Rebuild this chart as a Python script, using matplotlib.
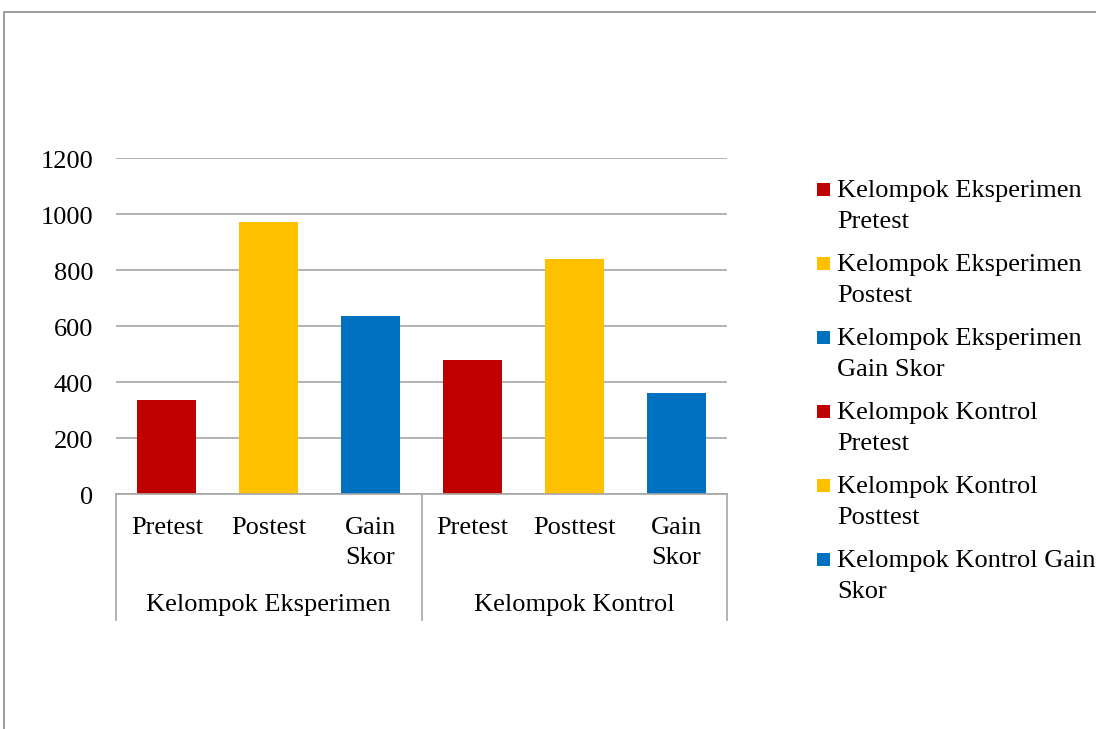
import matplotlib
matplotlib.use("Agg")
import matplotlib.pyplot as plt
from matplotlib.patches import Rectangle
from matplotlib.transforms import blended_transform_factory, ScaledTranslation

# ---- data ----
groups = ["Kelompok Eksperimen", "Kelompok Kontrol"]
tick_labels = ["Pretest", "Postest", "Gain\nSkor", "Pretest", "Posttest", "Gain\nSkor"]
values = [337, 973, 637, 480, 841, 362]
series_labels = [
    "Kelompok Eksperimen\nPretest",
    "Kelompok Eksperimen\nPostest",
    "Kelompok Eksperimen\nGain Skor",
    "Kelompok Kontrol\nPretest",
    "Kelompok Kontrol\nPosttest",
    "Kelompok Kontrol Gain\nSkor",
]
colors = ["#C00000", "#FFC000", "#0070C0", "#C00000", "#FFC000", "#0070C0"]
yticks = [0, 200, 400, 600, 800, 1000, 1200]

W, H = 1096, 729
plt.rcParams["font.family"] = ["Liberation Serif", "DejaVu Serif"]
FS = 19

fig = plt.figure(figsize=(W / 100, H / 100), dpi=100)
fig.patch.set_facecolor("white")

# outer frame (chart area border, cut off at right and bottom)
fig.add_artist(Rectangle((4 / W, -0.5), 2.0, 1.5 - 12 / H, transform=fig.transFigure,
                         fill=False, edgecolor="#8C8C8C", linewidth=1.2, clip_on=False))

left, right, top, bottom = 116, 727, 158, 494
ax = fig.add_axes([left / W, 1 - bottom / H, (right - left) / W, (bottom - top) / H])

x = list(range(len(values)))
ax.bar(x, values, width=0.58, color=colors, zorder=3)

ax.set_xlim(-0.5, len(values) - 0.5)
ax.set_ylim(0, 1200)
ax.set_yticks(yticks)
ax.set_yticklabels([str(v) for v in yticks], fontsize=FS)
ax.tick_params(axis="y", length=0, pad=16.5)
shift = ScaledTranslation(0, -2 / 100, fig.dpi_scale_trans)
for lbl in ax.get_yticklabels():
    lbl.set_transform(lbl.get_transform() + shift)
ax.set_xticks([])
ax.yaxis.grid(True, color="#A6A6A6", linewidth=1.2, zorder=0)
for s in ["left", "right", "top"]:
    ax.spines[s].set_visible(False)
ax.spines["bottom"].set_color("#A6A6A6")
ax.spines["bottom"].set_linewidth(1.2)
ax.spines["bottom"].set_zorder(4)

# multi-level category axis
px = 1.0 / (bottom - top)  # axes fraction per pixel
tr = blended_transform_factory(ax.transData, ax.transAxes)
n_per = len(values) // len(groups)
for b in [-0.5 + k * n_per for k in range(len(groups) + 1)]:
    ax.plot([b, b], [0, -126 * px], transform=tr, color="#A6A6A6", linewidth=1.2, clip_on=False)
for i, lab in enumerate(tick_labels):
    for j, line in enumerate(lab.split("\n")):
        ax.text(i, -(39.5 + 31 * j) * px, line, transform=tr, ha="center", va="baseline", fontsize=FS)
for g, name in enumerate(groups):
    ax.text(g * n_per + (n_per - 1) / 2, -117.5 * px, name, transform=tr,
            ha="center", va="baseline", fontsize=FS)

# legend
for i, (lab, c) in enumerate(zip(series_labels, colors)):
    base = 197 + 74 * i
    fig.add_artist(Rectangle((817 / W, 1 - 196 / H - 74 * i / H), 13 / W, 13 / H,
                             transform=fig.transFigure, facecolor=c, edgecolor="none"))
    for j, line in enumerate(lab.split("\n")):
        fig.text(837 / W, 1 - (base + 31 * j) / H, line, ha="left", va="baseline", fontsize=FS)

fig.savefig("out.png", dpi=100)
